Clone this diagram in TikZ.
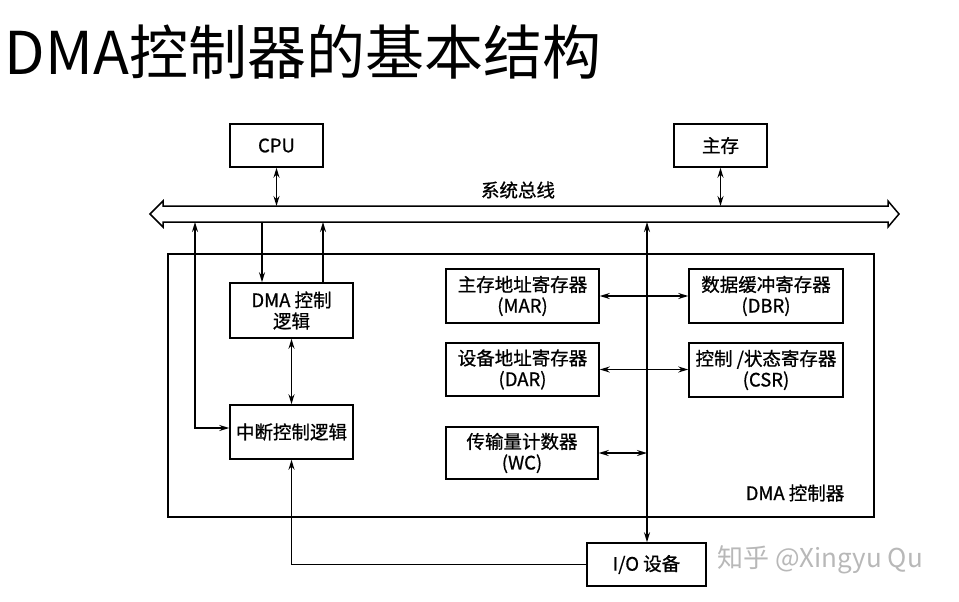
\documentclass[tikz,border=0pt]{standalone}
\usepackage{fontspec}
\setmainfont{Noto Sans CJK SC}
\newfontfamily\boxfont[FakeBold=0.8]{Noto Sans CJK SC}
\usetikzlibrary{arrows.meta}
\begin{document}
\begin{tikzpicture}[x=1pt,y=-1pt,line width=1.5pt,
  >={Stealth[length=10pt,width=6pt]},
  box/.style={draw,inner sep=0pt,align=center,font=\boxfont\fontsize{18.5}{21}\selectfont},
  lbl/.style={inner sep=0pt,font=\boxfont\fontsize{18.5}{21}\selectfont}]
\useasboundingbox (0,0) rectangle (959,602);
% title
\node[anchor=west,inner sep=0pt,font=\fontsize{59}{62}\selectfont] (title) at (4,52) {DMA控制器的基本结构};
% outer controller box
\node[draw,minimum width=706pt,minimum height=263pt,inner sep=0pt] (ctrl) at (521,385.5) {};
% bus
\draw[fill=white] (150,214) -- (163,201) -- (163,206) -- (888,206) -- (888,201) -- (899,214)
  -- (888,227) -- (888,222) -- (163,222) -- (163,227) -- cycle;
\coordinate (bustop) at (0,206);
\coordinate (busbot) at (0,222);
\node[lbl] (buslabel) at (518,190) {系统总线};
% boxes
\node[box,minimum width=93pt,minimum height=43pt] (cpu) at (276.5,145.5) {CPU};
\node[box,minimum width=93pt,minimum height=43pt] (mem) at (720.5,145.5) {主存};
\node[box,minimum width=123pt,minimum height=55pt] (dmal) at (291.5,310.5) {DMA 控制\\逻辑};
\node[box,minimum width=123pt,minimum height=54pt] (intr) at (291.5,432) {中断控制逻辑};
\node[box,minimum width=153pt,minimum height=54pt] (mar) at (522.5,296) {主存地址寄存器\\(MAR)};
\node[box,minimum width=154pt,minimum height=54pt] (dbr) at (766,296) {数据缓冲寄存器\\(DBR)};
\node[box,minimum width=153pt,minimum height=53pt] (dar) at (522.5,369.5) {设备地址寄存器\\(DAR)};
\node[box,minimum width=154pt,minimum height=54pt] (csr) at (766,370) {控制 /状态寄存器\\(CSR)};
\node[box,minimum width=152pt,minimum height=52pt] (wc) at (522,453) {传输量计数器\\(WC)};
\node[box,minimum width=119pt,minimum height=43pt] (io) at (646.5,564.5) {I/O 设备};
\node[lbl] (ctrllabel) at (795,493) {DMA 控制器};
\node[inner sep=0pt,text=black!28,font=\fontsize{26}{30}\selectfont] (wm) at (820,560) {知乎 @Xingyu Qu};
% connectors
\draw[<->] (cpu.south) -- (cpu.south |- bustop);
\draw[<->] (mem.south) -- (mem.south |- bustop);
\coordinate (d1) at (262,222);
\coordinate (d2) at (323,222);
\coordinate (l1) at (195,222);
\coordinate (v) at (647,222);
\draw[->] (d1) -- (d1 |- dmal.north);
\draw[->] (d2 |- dmal.north) -- (d2);
\draw[<->] (l1) |- ([yshift=4pt]intr.west);
\draw[<->] (dmal.south) -- (intr.north);
\draw[->] (io.west) -| (intr.south);
\draw[<->] (v) -- (v |- io.north);
\draw[<->] (mar.east) -- (dbr.west);
\draw[<->] (dar.east) -- (dar.east -| csr.west);
\draw[<->] (wc.east) -- (wc.east -| v);
\end{tikzpicture}
\end{document}
